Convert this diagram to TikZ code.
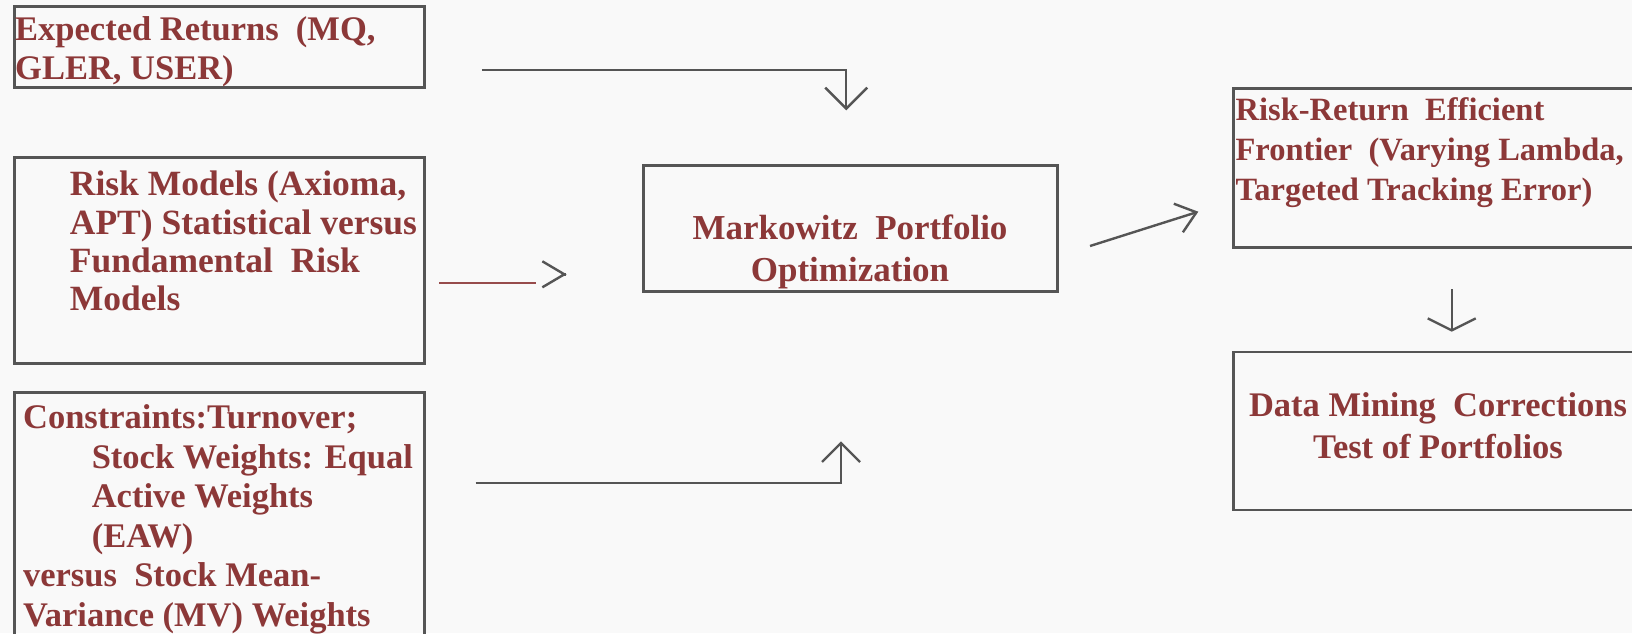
\documentclass[tikz,border=0pt]{standalone}
\usepackage{fontspec}
\setmainfont{Liberation Serif}
\usepackage{tikz}
\usetikzlibrary{arrows.meta,positioning}
\definecolor{gray1}{RGB}{249,249,249}
\definecolor{linegray}{RGB}{85,85,85}
\definecolor{darkred}{RGB}{140,56,56}
\tikzset{
  box/.style={draw=linegray,line width=2.6pt,rectangle,inner sep=0pt},
  txt/.style={text=darkred,inner sep=0pt,align=left,
    font=\bfseries\fontsize{35}{39}\selectfont},
  conn/.style={draw=linegray,line width=2.4pt},
}

\begin{document}
\begin{tikzpicture}[x=1pt,y=1pt]
\fill[gray1] (0,0) rectangle (1632,-633);
\useasboundingbox (0,0) rectangle (1632,-633);
\clip (0,0) rectangle (1632,-633);
%
% inputs (text nodes sit on the baseline of their last line)
\node[box,minimum width=410,minimum height=81] (ret) at (219.6,-46.8) {};
\node[box,minimum width=410,minimum height=206] (risk) at (219.6,-260.2) {};
\node[box,minimum width=410,minimum height=268] (cons) at (219.6,-526.2) {};
%
\node[txt,anchor=base west,font=\bfseries\fontsize{34.5}{39}\selectfont] (ret-t) at (15,-79)
  {Expected Returns\ \ (MQ,\\GLER, USER)};
\node[txt,anchor=base west,font=\bfseries\fontsize{35.5}{38.3}\selectfont] (risk-t) at (69.7,-310.6)
  {Risk Models (Axioma,\\APT) Statistical versus\\Fundamental\ \ Risk\\Models};
\node[txt,anchor=base west,font=\bfseries\fontsize{34.5}{39.5}\selectfont] (cons-t) at (22.9,-626)
  {Constraints:Turnover;\\
   \hspace*{68.7pt}Stock Weights: Equal\\
   \hspace*{68.7pt}Active Weights\\
   \hspace*{68.7pt}(EAW)\\
   versus\ \ Stock Mean-\\
   Variance (MV) Weights};
%
% optimizer
\node[box,minimum width=414,minimum height=126] (mpo) at (850.3,-228.4) {};
\node[txt,align=center,anchor=base,font=\bfseries\fontsize{35}{41.7}\selectfont] (mpo-t) at (850,-281)
  {Markowitz\ \ Portfolio\\Optimization};
%
% outputs
\node[box,minimum width=420,minimum height=159] (front) at (1443.2,-168.1) {};
\node[box,minimum width=420,minimum height=158] (dm) at (1443.2,-430.9) {};
\node[txt,anchor=base west,font=\bfseries\fontsize{32.5}{40}\selectfont] (front-t) at (1235.4,-200.5)
  {Risk-Return\ \ Efficient\\Frontier\ \ (Varying Lambda,\\Targeted Tracking Error)};
\node[txt,align=center,anchor=base,font=\bfseries\fontsize{34.5}{41.7}\selectfont] (dm-t) at (1438,-458.5)
  {Data Mining\ \ Corrections\\Test of Portfolios};
%
% connectors
\coordinate (ret-a) at (481.9,-69.7);
\coordinate (ret-b) at (846.2,-110.3);
\coordinate (risk-a) at (439.3,-282.7);
\coordinate (risk-b) at (535.7,-282.7);
\coordinate (risk-c) at (566.7,-274.3);
\coordinate (cons-a) at (475.6,-483);
\coordinate (cons-b) at (841,-441.3);
\coordinate (mpo-a) at (1090,-246);
\coordinate (mpo-b) at (1198.3,-211.7);
\coordinate (front-a) at (1451.7,-289.3);
\coordinate (front-b) at (1451.7,-331.7);
%
\draw[conn,-{Straight Barb[length=21pt,width=42pt]}] (ret-a) -| (ret-b);
\draw[draw=darkred!90!white,line width=2.4pt] (risk-a) -- (risk-b);
\draw[conn,-{Straight Barb[length=22pt,width=26pt]}] ([xshift=-0.5pt]risk-c) -- (risk-c);
\draw[conn,-{Straight Barb[length=19pt,width=38pt]}] (cons-a) -| (cons-b);
\draw[conn,-{Straight Barb[length=19pt,width=30pt]}] (mpo-a) -- (mpo-b);
\draw[conn,-{Straight Barb[length=12pt,width=48pt]}] (front-a) -- (front-b);
\end{tikzpicture}
\end{document}
